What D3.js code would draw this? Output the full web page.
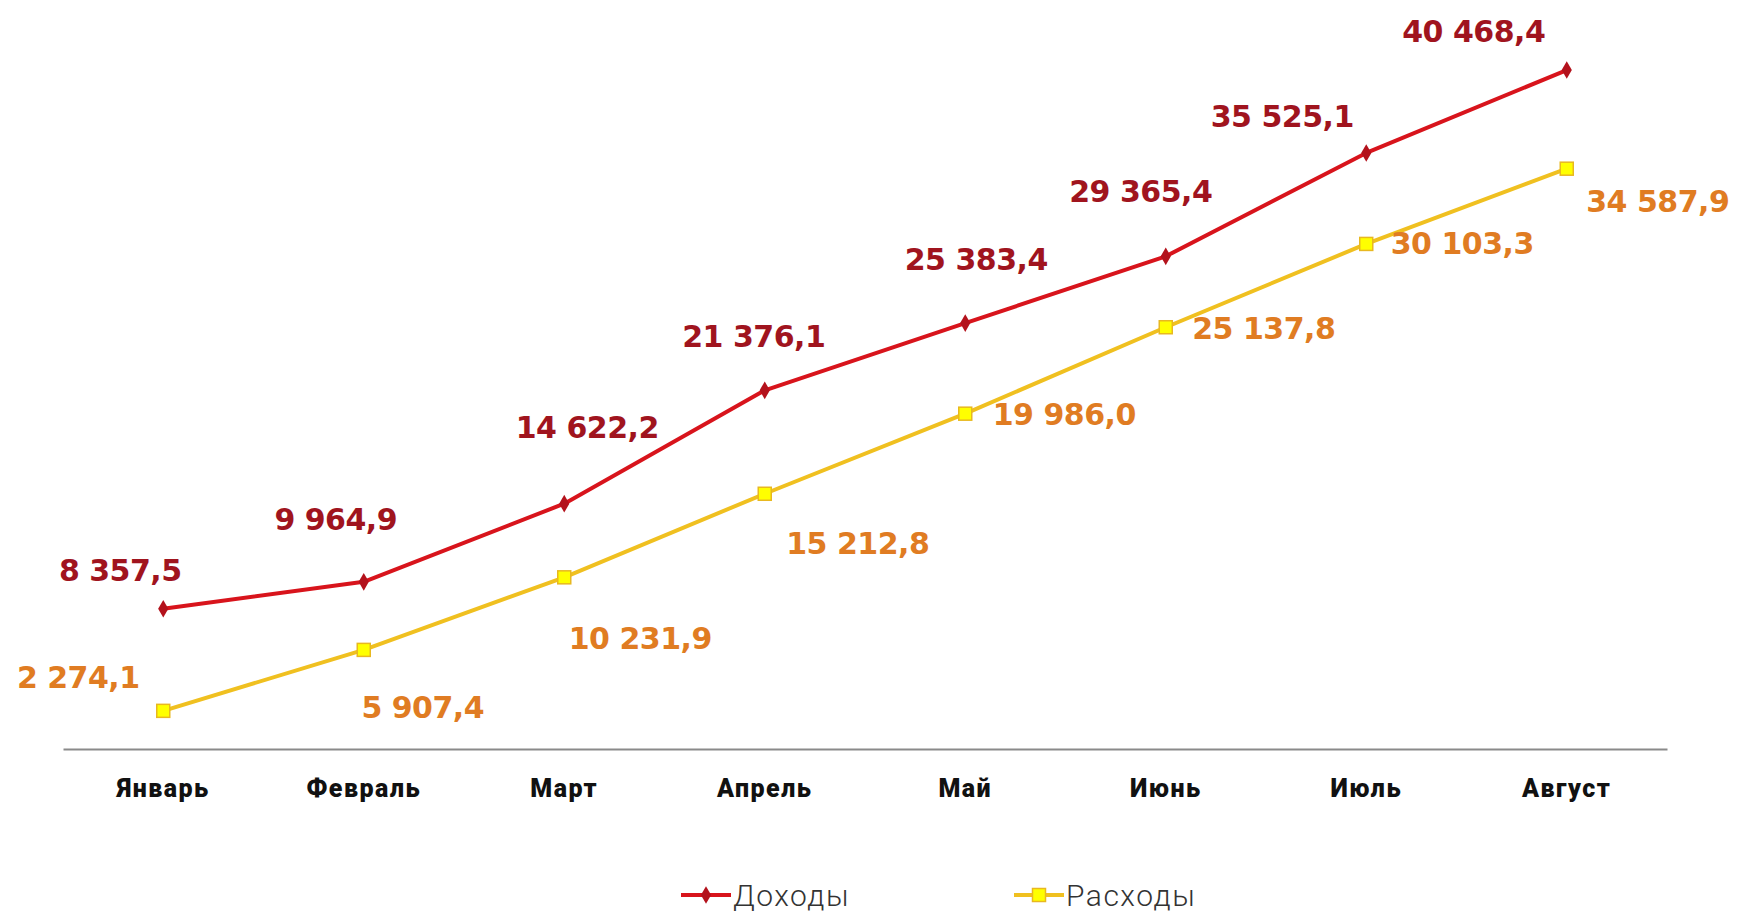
<!DOCTYPE html>
<html><head><meta charset="utf-8">
<script src="https://cdn.jsdelivr.net/npm/d3@7"></script>
<style>body{margin:0;background:#fff;overflow:hidden}svg{display:block}</style>
</head><body>
<svg id="chart" width="1737" height="911"></svg>
<script>
const months = ["Январь","Февраль","Март","Апрель","Май","Июнь","Июль","Август"];
const income = [8357.5, 9964.9, 14622.2, 21376.1, 25383.4, 29365.4, 35525.1, 40468.4];
const expenses = [2274.1, 5907.4, 10231.9, 15212.8, 19986.0, 25137.8, 30103.3, 34587.9];
const seriesNames = ["Доходы", "Расходы"];
// label placement offsets (layout, px)
const incomeLabelOffset = [[-43,-38],[-28,-62],[23,-76],[-11,-54],[11,-64],[-25,-65],[-84,-36],[-93,-39]];
const expenseLabelOffset = [[-85,-33],[59,58],[76,61],[93,50],[99,1],[98,1],[96,0],[91,33]];

const svg = d3.select("#chart");
const x = d3.scaleBand().domain(months).range([63, 1667]);
const y = d3.scaleLinear().domain([0, 45000]).range([749, -6]);
const cx = m => x(m) + x.bandwidth()/2;
const fmt = v => d3.format(",.1f")(v).replace(/,/g, " ").replace(".", ",");

// axis
const axis = svg.append("g").attr("transform", "translate(0,749)")
  .call(d3.axisBottom(x).tickSize(0).tickPadding(0));
axis.select(".domain").attr("stroke", "#8a8a8a").attr("stroke-width", 2);
axis.selectAll("text").attr("font-family", "Roboto, 'Noto Sans', sans-serif")
  .attr("font-weight", 900).attr("font-size", 25).attr("letter-spacing", 1.5).attr("fill", "#111")
  .attr("dy", 0).attr("y", 48);

const line = d3.line().x((d,i) => cx(months[i])).y(d => y(d));

function drawSeries(vals, color, markerFn, labelColor, offsets) {
  svg.append("path").datum(vals).attr("d", line).attr("fill", "none")
    .attr("stroke", color).attr("stroke-width", 4).attr("stroke-linejoin", "round");
  const g = svg.append("g");
  vals.forEach((v,i) => markerFn(g, cx(months[i]), y(v)));
  svg.append("g").selectAll("text").data(vals).join("text")
    .attr("x", (d,i) => cx(months[i]) + offsets[i][0])
    .attr("y", (d,i) => y(d) + offsets[i][1])
    .attr("text-anchor", "middle").attr("dominant-baseline", "central")
    .attr("font-family", "'DejaVu Sans', sans-serif")
    .attr("font-weight", 700).attr("font-size", 30).attr("letter-spacing", -0.5)
    .attr("fill", labelColor).text(d => fmt(d));
}
const diamond = (g, px, py) => g.append("path")
  .attr("d", d3.symbol(d3.symbolDiamond, 90)()).attr("transform", `translate(${px},${py})`)
  .attr("fill", "#b3121c");
const square = (g, px, py) => g.append("rect")
  .attr("x", px-6.5).attr("y", py-6.5).attr("width", 13).attr("height", 13)
  .attr("fill", "#ffff00").attr("stroke", "#e8b820").attr("stroke-width", 1.5);

drawSeries(income, "#d8141c", diamond, "#a0141e", incomeLabelOffset);
drawSeries(expenses, "#f0c020", square, "#e07c22", expenseLabelOffset);

// legend
const legendX = [681, 1014];
const legendColors = ["#d8141c", "#f0c020"];
const lg = svg.append("g");
seriesNames.forEach((n,i) => {
  const lx = legendX[i], ly = 895;
  lg.append("line").attr("x1", lx).attr("x2", lx+50).attr("y1", ly).attr("y2", ly)
    .attr("stroke", legendColors[i]).attr("stroke-width", 4);
  if (i === 0) diamond(lg, lx+25, ly); else square(lg, lx+25, ly);
  lg.append("text").attr("x", lx+52).attr("y", ly).attr("dominant-baseline", "central")
    .attr("font-family", "Roboto, 'Noto Sans', sans-serif").attr("font-weight", 300)
    .attr("font-size", 30).attr("letter-spacing", 1.5).attr("fill", "#333").text(n);
});
</script>
</body></html>
